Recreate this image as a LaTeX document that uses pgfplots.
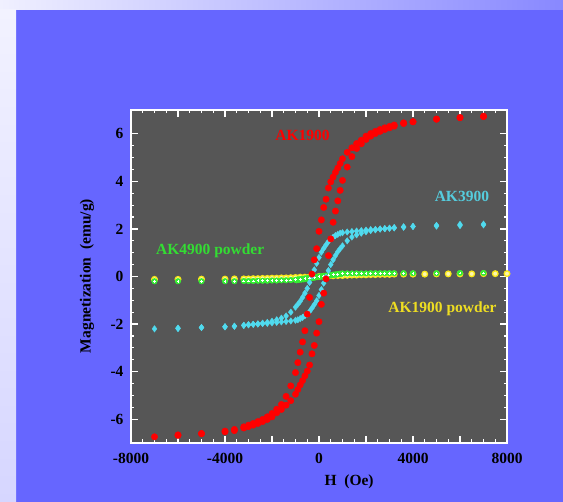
\documentclass[border=0pt]{standalone}
\usepackage{fontspec}
\setmainfont{Liberation Serif}
\usepackage{pgfplots}
\pgfplotsset{compat=1.18}
\definecolor{bgblue}{HTML}{6666FF}
\definecolor{plotgray}{HTML}{565656}
\definecolor{mred}{HTML}{FF0000}
\definecolor{mcyan}{HTML}{50DAEE}
\definecolor{tcyan}{HTML}{55CCDD}
\definecolor{mgreen}{HTML}{33EE33}
\definecolor{tgreen}{HTML}{33DD33}
\definecolor{myellow}{HTML}{F8E818}
\definecolor{tyellow}{HTML}{EEDD22}
\newcommand{\lblfont}{\fontsize{15.5}{17}\selectfont\bfseries}
\begin{document}
\begin{tikzpicture}
\fill[bgblue] (0pt,0pt) rectangle (563pt,502pt);
\shade[left color={rgb,255:red,240;green,240;blue,255}, right color={rgb,255:red,136;green,136;blue,255}] (0pt,492pt) rectangle (563pt,502pt);
\shade[top color={rgb,255:red,242;green,242;blue,255}, bottom color={rgb,255:red,214;green,214;blue,255}] (0pt,0pt) rectangle (16pt,492pt);
\begin{axis}[
  at={(131pt,59pt)}, anchor=south west,
  scale only axis, width=376pt, height=333pt,
  xmin=-8000, xmax=8000, ymin=-7, ymax=7,
  axis background/.style={fill=plotgray},
  axis line style={white, line width=1.8pt},
  tick style={white, line width=1.2pt},
  tick align=inside,
  major tick length=7pt, minor tick length=3.5pt,
  xtick={-8000,-6000,...,8000},
  xticklabels={-8000,,-4000,,0,,4000,,8000},
  minor x tick num=3,
  ytick={-6,-4,...,6},
  yticklabels={-6,-4,-2,0,2,4,6},
  minor y tick num=3,
  ticklabel style={font=\lblfont, text=black},
  xticklabel style={yshift=-7pt},
  yticklabel style={xshift=-4pt},
  /pgf/number format/assume math mode=true,
  scaled x ticks=false,
  xlabel={H\ \ (Oe)},
  ylabel={Magnetization\ \ (emu/g)},
  every axis x label/.style={at={(rel axis cs:0.58,-0.117)}, anchor=center, font=\lblfont, text=black},
  every axis y label/.style={at={(rel axis cs:-0.117,0.5015)}, anchor=center, rotate=90, font=\lblfont, text=black},
  clip=false,
]
% AK1900 powder (yellow)
\addplot[only marks, mark=*, mark size=2.8pt, mark options={draw=myellow, fill=myellow!35!white, line width=1.3pt}] coordinates {
(-7000,-0.12) (-6000,-0.12) (-5000,-0.11) (-4000,-0.11) (-3600,-0.10)
(-3200,-0.10) (-3000,-0.10) (-2800,-0.09) (-2600,-0.09) (-2400,-0.08) (-2200,-0.08) (-2000,-0.07)
(-1800,-0.07) (-1600,-0.06) (-1400,-0.06) (-1200,-0.05) (-1000,-0.04) (-800,-0.03) (-600,-0.03)
(-400,-0.02) (-200,-0.01) (0,0.00) (200,0.01) (400,0.02) (600,0.03) (800,0.04) (1000,0.04)
(1200,0.05) (1400,0.06) (1600,0.06) (1800,0.07) (2000,0.07) (2200,0.08) (2400,0.08) (2600,0.09)
(2800,0.09) (3000,0.09) (3200,0.10) (3600,0.10) (4000,0.10) (4500,0.10) (5000,0.11) (5500,0.11)
(6000,0.11) (6500,0.11) (7000,0.12) (7500,0.12) (8000,0.12)
};
% AK4900 powder (green)
\addplot[only marks, mark=*, mark size=2.8pt, mark options={draw=mgreen, fill=mgreen}] table {
H M
-7000 -0.20
-6000 -0.20
-5000 -0.20
-4000 -0.20
-3600 -0.20
-3200 -0.19
-3000 -0.19
-2800 -0.19
-2600 -0.18
-2400 -0.18
-2200 -0.18
-2000 -0.17
-1800 -0.17
-1600 -0.16
-1400 -0.16
-1200 -0.15
-1000 -0.14
-900 -0.12
-800 -0.11
-700 -0.10
-600 -0.08
-500 -0.07
-400 -0.06
-300 -0.04
-200 -0.03
-100 -0.02
0 0.00
100 0.01
200 0.02
300 0.04
400 0.05
500 0.06
600 0.08
700 0.09
800 0.10
900 0.12
1000 0.13
1200 0.13
1400 0.13
1600 0.13
1800 0.13
2000 0.13
2200 0.14
2400 0.14
2600 0.14
2800 0.14
3000 0.14
3200 0.14
3600 0.14
4000 0.14
5000 0.14
6000 0.15
7000 0.15
-950 -0.16
-850 -0.14
-750 -0.13
-650 -0.12
-550 -0.10
-450 -0.09
-350 -0.07
-250 -0.06
-150 -0.04
-50 -0.03
50 -0.01
150 0.00
250 0.02
350 0.03
450 0.04
550 0.06
650 0.07
750 0.08
850 0.10
950 0.11
};
\addplot[only marks, mark=+, mark size=1.4pt, mark options={draw=white, line width=0.8pt}] table {
H M
-7000 -0.20
-6000 -0.20
-5000 -0.20
-4000 -0.20
-3600 -0.20
-3200 -0.19
-3000 -0.19
-2800 -0.19
-2600 -0.18
-2400 -0.18
-2200 -0.18
-2000 -0.17
-1800 -0.17
-1600 -0.16
-1400 -0.16
-1200 -0.15
-1000 -0.14
-800 -0.11
-600 -0.08
-400 -0.06
-200 -0.03
0 0.00
200 0.02
400 0.05
600 0.08
800 0.10
1000 0.13
1200 0.13
1400 0.13
1600 0.13
1800 0.13
2000 0.13
2200 0.14
2400 0.14
2600 0.14
2800 0.14
3000 0.14
3200 0.14
3600 0.14
4000 0.14
5000 0.14
6000 0.15
7000 0.15
};
% AK3900 (cyan)
\addplot[only marks, mark=diamond*, mark size=3.2pt, mark options={draw=mcyan, fill=mcyan}] table {
H M
7000 2.17
6000 2.14
5000 2.12
4000 2.10
3600 2.07
3200 2.04
3000 2.03
2800 2.01
2600 2.00
2400 1.98
2200 1.97
2000 1.95
1800 1.93
1600 1.91
1400 1.89
1200 1.87
1000 1.84
900 1.82
800 1.77
700 1.72
600 1.65
500 1.58
400 1.47
300 1.33
200 1.18
100 1.02
0 0.80
-100 0.55
-200 0.28
-300 0.02
-400 -0.25
-500 -0.50
-600 -0.70
-700 -0.88
-800 -1.04
-900 -1.17
-1000 -1.29
-1200 -1.50
-1400 -1.66
-1600 -1.75
-1800 -1.82
-2000 -1.88
-2200 -1.93
-2400 -1.96
-2600 -1.99
-2800 -2.01
-3000 -2.03
-3200 -2.06
-3600 -2.09
-4000 -2.11
-5000 -2.15
-6000 -2.19
-7000 -2.20
-6000 -2.17
-5000 -2.14
-4000 -2.12
-3600 -2.09
-3200 -2.05
-3000 -2.03
-2800 -2.01
-2600 -2.00
-2400 -1.98
-2200 -1.97
-2000 -1.95
-1800 -1.93
-1600 -1.91
-1400 -1.89
-1200 -1.87
-1000 -1.84
-900 -1.82
-800 -1.77
-700 -1.72
-600 -1.65
-500 -1.58
-400 -1.47
-300 -1.33
-200 -1.18
-100 -1.02
0 -0.80
100 -0.55
200 -0.28
300 -0.02
400 0.25
500 0.50
600 0.70
700 0.88
800 1.04
900 1.17
1000 1.29
1200 1.50
1400 1.66
1600 1.75
1800 1.82
2000 1.88
2200 1.93
2400 1.96
2600 1.99
2800 2.01
3000 2.03
3200 2.06
3600 2.09
4000 2.11
5000 2.15
6000 2.19
7000 2.20
};
% AK1900 (red)
\addplot[only marks, mark=*, mark size=3.2pt, mark options={draw=mred, fill=mred}] table {
H M
7000 6.72
6000 6.68
5000 6.62
4000 6.51
3600 6.46
3200 6.37
3000 6.31
2800 6.25
2600 6.18
2400 6.10
2200 6.01
2000 5.90
1800 5.73
1600 5.59
1400 5.41
1200 5.22
1000 4.95
900 4.75
800 4.56
700 4.38
600 4.18
500 3.98
400 3.72
300 3.25
200 2.90
100 2.38
0 1.90
-100 1.17
-200 0.70
-300 0.10
-400 -0.88
-500 -1.58
-600 -2.28
-700 -2.75
-800 -3.18
-900 -3.62
-1000 -4.04
-1200 -4.60
-1400 -5.04
-1600 -5.38
-1800 -5.58
-2000 -5.76
-2200 -5.90
-2400 -6.01
-2600 -6.10
-2800 -6.18
-3000 -6.25
-3200 -6.32
-3600 -6.43
-4000 -6.50
-5000 -6.61
-6000 -6.68
-7000 -6.74
-6000 -6.66
-5000 -6.60
-4000 -6.53
-3600 -6.48
-3200 -6.37
-3000 -6.31
-2800 -6.25
-2600 -6.18
-2400 -6.10
-2200 -6.01
-2000 -5.90
-1800 -5.73
-1600 -5.59
-1400 -5.41
-1200 -5.22
-1000 -4.95
-900 -4.75
-800 -4.56
-700 -4.38
-600 -4.18
-500 -3.98
-400 -3.72
-300 -3.25
-200 -2.90
-100 -2.38
0 -1.90
100 -1.17
200 -0.70
300 -0.10
400 0.88
500 1.58
600 2.28
700 2.75
800 3.18
900 3.62
1000 4.04
1200 4.60
1400 5.04
1600 5.38
1800 5.58
2000 5.76
2200 5.90
2400 6.01
2600 6.10
2800 6.18
3000 6.25
3200 6.32
3600 6.43
4000 6.50
5000 6.61
6000 6.68
7000 6.74
};
\node[text=mred, font=\lblfont] at (axis cs:-700,5.92) {AK1900};
\node[text=tcyan, font=\lblfont] at (axis cs:6080,3.36) {AK3900};
\node[text=tgreen, font=\lblfont] at (axis cs:-4630,1.09) {AK4900 powder};
\node[text=tyellow, font=\lblfont] at (axis cs:5256,-1.36) {AK1900 powder};
\end{axis}
\pgfresetboundingbox
\path (0pt,0pt) rectangle (563pt,502pt);
\end{tikzpicture}
\end{document}
